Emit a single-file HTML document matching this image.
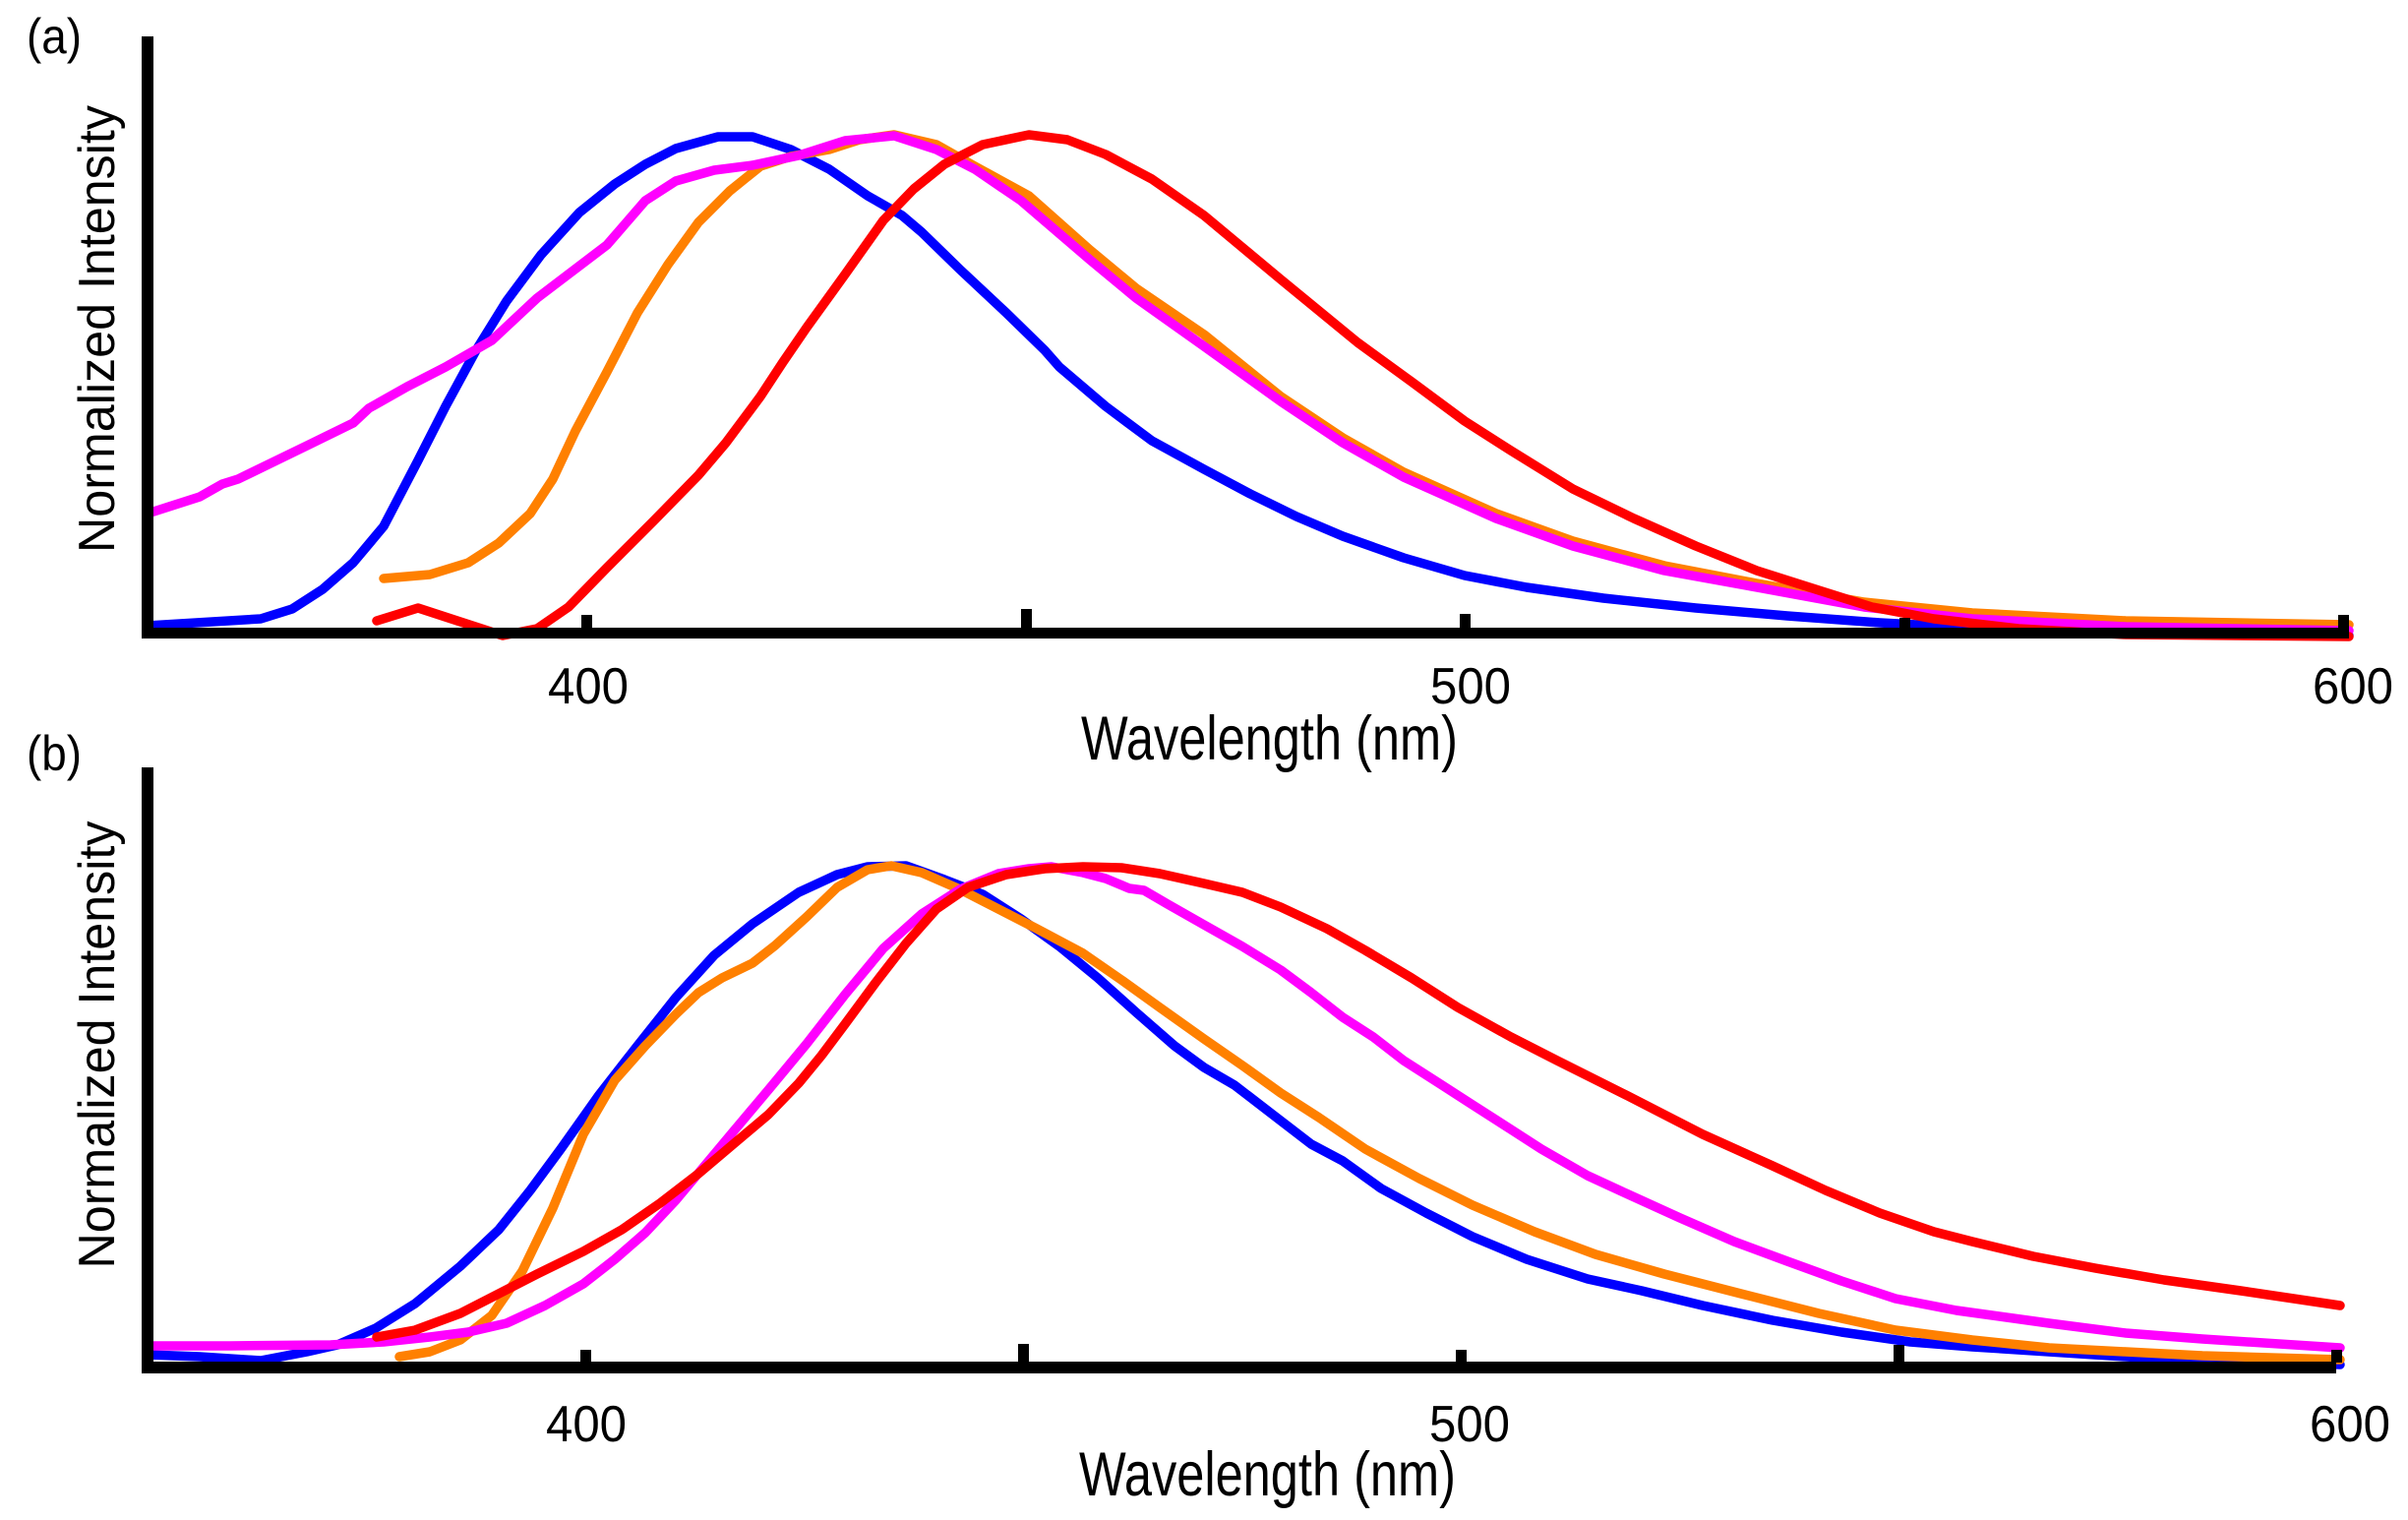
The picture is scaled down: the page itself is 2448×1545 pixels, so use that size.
<!DOCTYPE html>
<html>
<head>
<meta charset="utf-8">
<style>
html,body{margin:0;padding:0;background:#fff;}
svg{display:block;}
text{font-family:"Liberation Sans",Arial,sans-serif;fill:#000;}
</style>
</head>
<body>
<svg width="2448" height="1545" viewBox="0 0 2448 1545" xmlns="http://www.w3.org/2000/svg">
<rect x="0" y="0" width="2448" height="1545" fill="#fff"/>

<!-- ===== Panel (a) ===== -->
<text x="27" y="54" font-size="50" textLength="56" lengthAdjust="spacingAndGlyphs">(a)</text>
<text transform="translate(116,334.5) rotate(-90)" text-anchor="middle" font-size="52" textLength="455" lengthAdjust="spacingAndGlyphs">Normalized Intensity</text>

<g fill="none" stroke-width="9.5" stroke-linejoin="round" stroke-linecap="round">
<polyline stroke="#0000FF" points="150,636 265,629 297,619 328,599 359,572 390,535 425,468 453,413 484,356 515,306 550,259 589,216 625,187 656,167 687,151 730,139 765,139 804,152 843,172 882,199 917,219 937,236 976,274 1023,318 1062,356 1077,373 1124,413 1171,448 1224,477 1271,502 1318,525 1365,545 1427,567 1489,585 1552,597 1630,608 1724,618 1817,626 1911,633 2005,638 2083,642 2200,645 2388,646"/>
<polyline stroke="#FF8000" points="390,588 437,584 476,572 507,552 539,522 562,487 585,438 617,378 648,318 679,269 710,226 742,194 773,169 804,159 843,152 874,142 909,137 952,147 991,169 1046,199 1108,254 1155,293 1224,340 1302,403 1365,445 1427,480 1521,522 1599,550 1692,575 1786,593 1895,612 2005,623 2161,631 2388,635"/>
<polyline stroke="#FF00FF" points="150,522 203,505 226,492 242,487 312,453 359,430 375,415 414,393 453,373 500,346 546,303 617,249 656,204 687,184 726,173 765,168 812,158 859,143 909,138 952,152 991,172 1038,204 1108,264 1155,303 1224,352 1302,408 1365,450 1427,485 1521,527 1599,555 1692,580 1786,597 1895,617 2005,629 2161,637 2388,641"/>
<polyline stroke="#FF0000" points="383,631 425,618 468,632 511,646 546,639 578,617 617,577 664,530 710,483 738,450 773,403 796,368 820,333 859,279 898,224 929,192 960,167 999,147 1046,137 1085,142 1124,157 1171,182 1224,219 1302,284 1380,348 1435,388 1489,428 1536,458 1599,497 1661,527 1724,555 1786,580 1849,600 1903,617 1966,629 2052,639 2161,645 2388,647"/>
</g>

<!-- axes (a) -->
<rect x="144" y="37" width="12" height="612" fill="#000"/>
<rect x="144" y="638" width="2244" height="11" fill="#000"/>
<rect x="591" y="625" width="11" height="14" fill="#000"/>
<rect x="1038" y="619" width="11" height="20" fill="#000"/>
<rect x="1484" y="624" width="11" height="15" fill="#000"/>
<rect x="1931" y="628" width="11" height="11" fill="#000"/>
<rect x="2377" y="625" width="11" height="14" fill="#000"/>

<text x="598" y="715" font-size="52" text-anchor="middle" textLength="82" lengthAdjust="spacingAndGlyphs">400</text>
<text x="1495" y="715" font-size="52" text-anchor="middle" textLength="82" lengthAdjust="spacingAndGlyphs">500</text>
<text x="2392" y="715" font-size="52" text-anchor="middle" textLength="82" lengthAdjust="spacingAndGlyphs">600</text>
<text x="1099" y="772" font-size="63" textLength="383" lengthAdjust="spacingAndGlyphs">Wavelength (nm)</text>

<!-- ===== Panel (b) ===== -->
<text x="27" y="783" font-size="50" textLength="56" lengthAdjust="spacingAndGlyphs">(b)</text>
<text transform="translate(116,1062) rotate(-90)" text-anchor="middle" font-size="52" textLength="455" lengthAdjust="spacingAndGlyphs">Normalized Intensity</text>

<g fill="none" stroke-width="9.5" stroke-linejoin="round" stroke-linecap="round">
<polyline stroke="#0000FF" points="150,1377 203,1379 265,1383 312,1374 343,1367 382,1350 422,1325 468,1287 507,1250 539,1210 570,1168 609,1113 648,1063 687,1014 726,971 765,939 812,907 851,889 882,881 921,880 960,894 999,909 1038,934 1077,962 1116,994 1155,1029 1194,1063 1224,1085 1255,1103 1294,1133 1333,1163 1365,1180 1404,1208 1450,1233 1497,1257 1552,1280 1614,1300 1669,1312 1731,1327 1802,1342 1872,1354 1942,1364 2005,1369 2083,1374 2161,1379 2239,1383 2379,1387"/>
<polyline stroke="#FF8000" points="406,1379 437,1374 468,1362 500,1337 531,1292 562,1228 593,1153 625,1098 656,1063 687,1031 710,1009 734,994 765,979 788,961 820,932 851,902 882,884 906,880 937,887 976,904 1015,924 1054,944 1101,969 1140,996 1179,1024 1224,1056 1263,1083 1302,1111 1341,1136 1388,1168 1443,1198 1497,1225 1560,1252 1622,1275 1692,1295 1770,1315 1849,1335 1927,1352 2005,1362 2083,1370 2161,1374 2239,1378 2379,1382"/>
<polyline stroke="#FF00FF" points="150,1368 234,1368 336,1367 390,1364 437,1359 476,1354 515,1345 554,1327 593,1305 625,1280 656,1253 687,1220 718,1183 749,1146 781,1108 820,1061 859,1011 898,964 937,929 976,904 1015,888 1046,883 1069,881 1101,887 1124,893 1148,903 1163,905 1187,919 1224,940 1263,962 1302,986 1333,1009 1365,1034 1396,1054 1427,1078 1466,1103 1497,1123 1536,1148 1567,1168 1614,1195 1653,1213 1708,1238 1763,1262 1817,1282 1872,1302 1927,1320 1989,1332 2083,1345 2161,1355 2239,1361 2379,1370"/>
<polyline stroke="#FF0000" points="383,1359 422,1352 468,1335 507,1315 546,1295 593,1272 632,1250 671,1223 710,1193 749,1160 781,1133 812,1101 835,1073 859,1041 890,999 921,959 952,924 984,902 1023,889 1062,883 1101,881 1140,882 1179,888 1224,898 1263,907 1302,922 1349,944 1388,966 1435,994 1482,1024 1536,1054 1583,1078 1653,1113 1731,1153 1802,1185 1856,1210 1911,1233 1966,1252 2005,1262 2067,1277 2130,1289 2200,1301 2278,1312 2379,1327"/>
</g>

<!-- axes (b) -->
<rect x="144" y="780" width="12" height="616" fill="#000"/>
<rect x="144" y="1384" width="2231" height="12" fill="#000"/>
<rect x="590" y="1372" width="11" height="13" fill="#000"/>
<rect x="1035" y="1366" width="11" height="19" fill="#000"/>
<rect x="1480" y="1372" width="11" height="13" fill="#000"/>
<rect x="1925" y="1367" width="11" height="18" fill="#000"/>
<rect x="2370" y="1372" width="11" height="13" fill="#000"/>

<text x="596" y="1465" font-size="52" text-anchor="middle" textLength="82" lengthAdjust="spacingAndGlyphs">400</text>
<text x="1494" y="1465" font-size="52" text-anchor="middle" textLength="82" lengthAdjust="spacingAndGlyphs">500</text>
<text x="2389" y="1465" font-size="52" text-anchor="middle" textLength="82" lengthAdjust="spacingAndGlyphs">600</text>
<text x="1097" y="1520" font-size="63" textLength="383" lengthAdjust="spacingAndGlyphs">Wavelength (nm)</text>
</svg>
</body>
</html>
